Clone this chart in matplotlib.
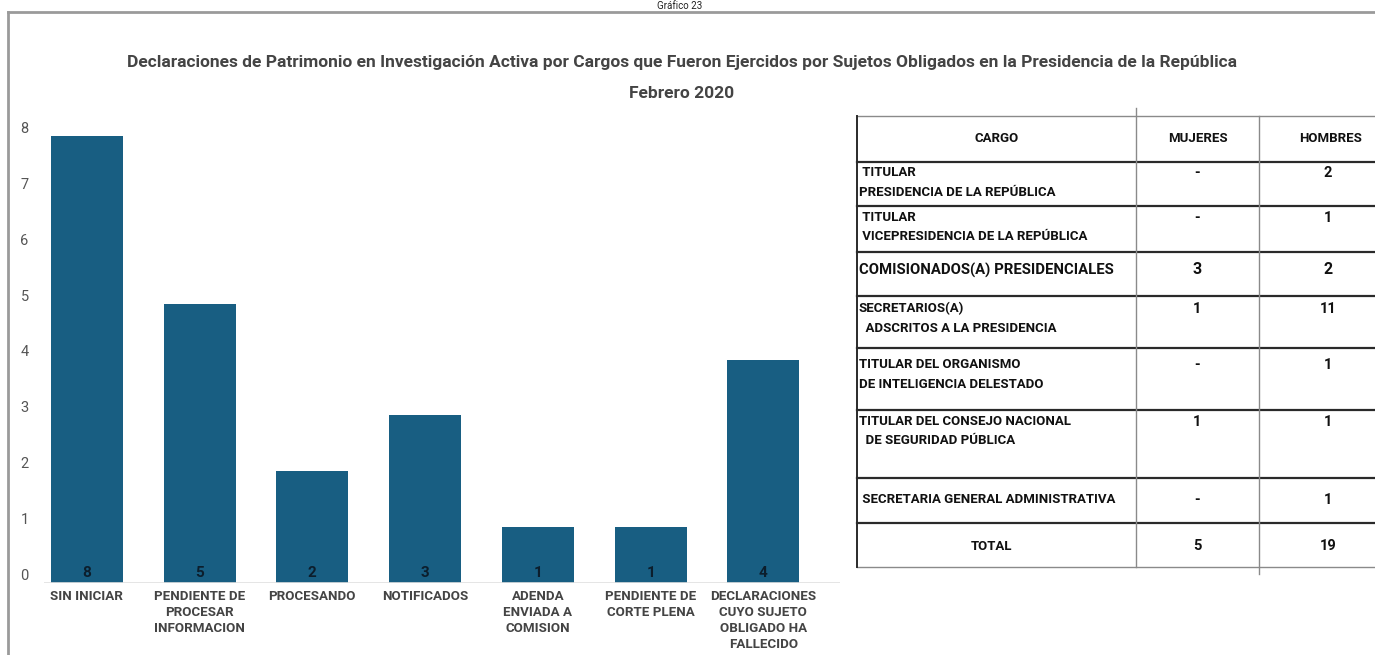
import matplotlib
matplotlib.use('Agg')
import matplotlib.pyplot as plt
import numpy as np

plt.rcParams['font.family'] = ['Roboto', 'DejaVu Sans']

# bar chart data
categories = ['SIN INICIAR', 'PENDIENTE DE\nPROCESAR\nINFORMACION', 'PROCESANDO', 'NOTIFICADOS',
              'ADENDA\nENVIADA A\nCOMISION', 'PENDIENTE DE\nCORTE PLENA',
              'DECLARACIONES\nCUYO SUJETO\nOBLIGADO HA\nFALLECIDO']
values = [8, 5, 2, 3, 1, 1, 4]

# table data
table_header = ['CARGO', 'MUJERES', 'HOMBRES']
cargos = [' TITULAR\nPRESIDENCIA DE LA REPÚBLICA',
          ' TITULAR\n VICEPRESIDENCIA DE LA REPÚBLICA',
          'COMISIONADOS(A) PRESIDENCIALES',
          'SECRETARIOS(A)\n  ADSCRITOS A LA PRESIDENCIA',
          'TITULAR DEL ORGANISMO\nDE INTELIGENCIA DELESTADO',
          'TITULAR DEL CONSEJO NACIONAL\n  DE SEGURIDAD PÚBLICA',
          ' SECRETARIA GENERAL ADMINISTRATIVA']
mujeres = ['-', '-', '3', '1', '-', '1', '-']
hombres = ['2', '1', '2', '11', '1', '1', '1']
total_row = ['TOTAL', '5', '19']

W, H = 1375, 655
fig = plt.figure(figsize=(W / 100, H / 100), dpi=100)

# overlay axes in pixel coordinates for frame, titles and table
ov = fig.add_axes([0, 0, 1, 1])
ov.set_xlim(0, W)
ov.set_ylim(H, 0)
ov.axis('off')

ov.plot([8, W], [12, 12], color='#9a9a9a', lw=2)
ov.plot([8, 8], [12, H], color='#9a9a9a', lw=2)
ov.text(680, 1, 'Gráfico 23', ha='center', va='top', fontsize=7, color='#222')

title_kw = dict(ha='center', va='center', fontsize=12.5, fontweight='bold', color='#444')
ov.text(682, 63, 'Declaraciones de Patrimonio en Investigación Activa por Cargos que Fueron Ejercidos '
        'por Sujetos Obligados en la Presidencia de la República', **title_kw)
ov.text(682, 93, 'Febrero 2020', **title_kw)

# bar chart
ax = fig.add_axes([44 / W, 1 - 583 / H, (840 - 44) / W, (583 - 136) / H])
x = np.arange(len(values))
ax.bar(x, values, width=0.64, color='#185e82')
ax.set_xlim(-0.38, 6.68)
ax.set_ylim(0, 8)
ax.axhline(0, color='#e0e0e0', lw=1.2)
for s in ax.spines.values():
    s.set_visible(False)
ax.set_yticks(range(0, 9))
ax.tick_params(axis='y', length=0, pad=11, labelsize=10.5, labelcolor='#555')
for lbl in ax.get_yticklabels():
    lbl.set_verticalalignment('bottom')
ax.set_xticks(x)
ax.set_xticklabels(categories, fontsize=9.6, fontweight='bold', color='#444', linespacing=1.3, va='top')
ax.tick_params(axis='x', length=0, pad=5)
for xi, v in zip(x, values):
    ax.text(xi, 0.05, str(v), ha='center', va='bottom', fontsize=11, fontweight='bold', color='#0c1e2c')

# table
tx0, tx1, tx2, tx3 = 857, 1136, 1259, 1380
row_y = [116, 162, 206, 252, 296, 348, 410, 478, 523, 567]
dark = '#2a2a2a'
grey = '#8a8a8a'
for i, yy in enumerate(row_y):
    edge = i in (0, len(row_y) - 1)
    ov.plot([tx0, tx3], [yy, yy], color=grey if edge else dark, lw=1.0 if edge else 1.6)
ov.plot([tx0, tx0], [row_y[0], row_y[-1]], color=dark, lw=1.4)
ov.plot([tx1, tx1], [108, row_y[-1]], color=grey, lw=1.0)
ov.plot([tx2, tx2], [row_y[0], 574], color=grey, lw=1.0)

cell_kw = dict(fontsize=9.5, fontweight='bold', color='#111')
head_x = [(tx0 + tx1) / 2, (tx1 + tx2) / 2, 1331]
for hx, h in zip(head_x, table_header):
    ov.text(hx, 139, h, ha='center', va='center', **cell_kw)

first_line = [173, 218, 270, 309, 365, 422, 500]
for i in range(len(cargos)):
    y0 = first_line[i]
    big = i == 2
    if big:
        ov.text(859, y0, cargos[i], ha='left', va='center', fontsize=10.7, fontweight='bold', color='#111')
    else:
        ov.text(859, y0 - 7, cargos[i], ha='left', va='top', linespacing=1.65, **cell_kw)
    ov.text(head_x[1], y0, mujeres[i], ha='center', va='center',
            fontsize=11.5 if big else 10.5, fontweight='bold', color='#111')
    ov.text(1328, y0, hombres[i], ha='center', va='center',
            fontsize=11.5 if big else 10.5, fontweight='bold', color='#111')

ov.text(head_x[0] - 5, 546, total_row[0], ha='center', va='center', **cell_kw)
ov.text(head_x[1], 546, total_row[1], ha='center', va='center', fontsize=10.5, fontweight='bold', color='#111')
ov.text(1328, 546, total_row[2], ha='center', va='center', fontsize=10.5, fontweight='bold', color='#111')

fig.savefig('out.png', dpi=100)
